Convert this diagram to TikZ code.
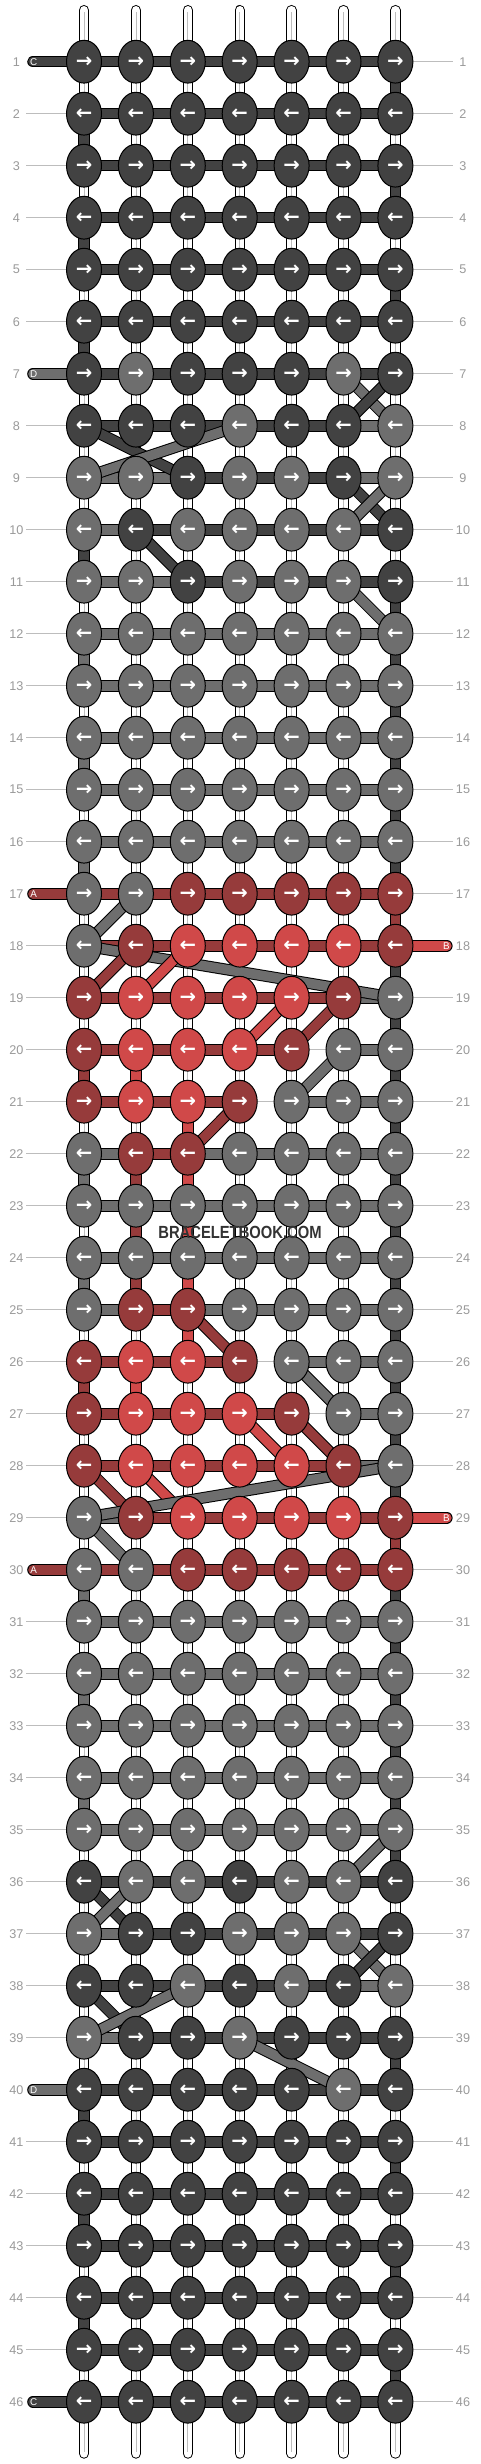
\documentclass[tikz,border=0pt]{standalone}
\usepackage{fontspec}
\setmainfont{Liberation Sans}
\newfontfamily\arrowfont{DejaVu Sans}
\usetikzlibrary{shapes.geometric}
\definecolor{cK}{HTML}{424242}
\definecolor{cG}{HTML}{6E6E6E}
\definecolor{cR}{HTML}{963B3B}
\definecolor{cL}{HTML}{D04949}
\definecolor{labelgray}{HTML}{9A9A9A}
\definecolor{linegray}{HTML}{BDBDBD}
\pgfdeclarelayer{strands}
\pgfsetlayers{strands,main}

\begin{document}
\begin{tikzpicture}[x=0.25mm, y=-0.25mm,
    knot style/.style={ellipse, draw=black, line width=0.25mm, minimum width=8.75mm, minimum height=10.7mm, inner sep=0pt, text=white, font=\arrowfont\bfseries\fontsize{14}{14}\selectfont},
    strand style/.style={draw=black, line width=0.25mm, double distance=2.4mm},
    base style/.style={draw=black, line width=0.25mm, double=white, double distance=2.1mm, line cap=round},
    thin line/.style={draw=linegray, line width=0.25mm},
    row label/.style={text=labelgray, font=\fontsize{9}{9}\selectfont, inner sep=0pt},
    tab letter/.style={text=white, font=\fontsize{7}{7}\selectfont, inner sep=0pt}
]
\useasboundingbox (0,0) rectangle (480,2464);

% knots, one row per line
\foreach \knots [count=\r] in {
    {K,K,K,K,K,K,K},{K,K,K,K,K,K,K},{K,K,K,K,K,K,K},{K,K,K,K,K,K,K},
    {K,K,K,K,K,K,K},{K,K,K,K,K,K,K},{K,G,K,K,K,G,K},{K,K,K,G,K,K,G},
    {G,G,K,G,G,K,G},{G,K,G,G,G,G,K},{G,G,K,G,G,G,K},{G,G,G,G,G,G,G},
    {G,G,G,G,G,G,G},{G,G,G,G,G,G,G},{G,G,G,G,G,G,G},{G,G,G,G,G,G,G},
    {G,G,R,R,R,R,R},{G,R,L,L,L,L,R},{R,L,L,L,L,R,G},{R,L,L,L,R,G,G},
    {R,L,L,R,G,G,G},{G,R,R,G,G,G,G},{G,G,G,G,G,G,G},{G,G,G,G,G,G,G},
    {G,R,R,G,G,G,G},{R,L,L,R,G,G,G},{R,L,L,L,R,G,G},{R,L,L,L,L,R,G},
    {G,R,L,L,L,L,R},{G,G,R,R,R,R,R},{G,G,G,G,G,G,G},{G,G,G,G,G,G,G},
    {G,G,G,G,G,G,G},{G,G,G,G,G,G,G},{G,G,G,G,G,G,G},{K,G,G,K,G,G,K},
    {G,K,K,G,G,G,K},{K,K,G,K,G,K,G},{G,K,K,G,K,K,K},{K,K,K,K,K,G,K},
    {K,K,K,K,K,K,K},{K,K,K,K,K,K,K},{K,K,K,K,K,K,K},{K,K,K,K,K,K,K},
    {K,K,K,K,K,K,K},{K,K,K,K,K,K,K}}{
  \foreach \c [count=\i] in \knots {
    \node[knot style, fill=c\c] (k\r-\i) at ({84+(\i-1)*51.9},{61.7+(\r-1)*52}) {\ifodd\r →\else ←\fi};
  }
  \node[row label] (ll\r) at (16.5,{61.7+(\r-1)*52}) {\r};
  \node[row label] (rl\r) at (463,{61.7+(\r-1)*52}) {\r};
}

\begin{pgfonlayer}{strands}
\fill[white] (0,0) rectangle (480,2464);

% base strings
\foreach \i in {1,...,7}{
  \coordinate (t\i) at ({84+(\i-1)*51.9},10.2);
  \coordinate (b\i) at ({84+(\i-1)*51.9},2453.5);
  \draw[base style] (t\i) -- (b\i);
  \draw[linegray, line width=0.2mm] ([yshift=-0.5mm]t\i) -- ([yshift=0.5mm]b\i);
}

% coloured strands between rows
\foreach \gaps [count=\r] in {
    {W,W,W,W,W,W,K},{K,W,W,W,W,W,W},{W,W,W,W,W,W,K},{K,W,W,W,W,W,W},
    {W,W,W,W,W,W,K},{K,W,W,W,W,W,W},{W,W,W,W,W,W,W},{W,W,W,W,W,W,W},
    {W,W,W,W,W,W,W},{K,W,W,W,W,W,W},{W,W,W,W,W,W,K},{G,W,W,W,W,W,K},
    {W,W,W,W,W,W,K},{G,W,W,W,W,W,K},{W,W,W,W,W,W,K},{G,W,W,W,W,W,K},
    {W,W,W,W,W,W,R},{W,W,W,W,W,W,K},{W,W,W,W,W,W,K},{R,L,W,W,W,W,K},
    {W,W,L,W,W,W,K},{G,R,L,W,W,W,K},{W,R,L,W,W,W,K},{G,R,L,W,W,W,K},
    {W,W,L,W,W,W,K},{R,L,W,W,W,W,K},{W,W,W,W,W,W,K},{W,W,W,W,W,W,K},
    {W,W,W,W,W,W,R},{G,W,W,W,W,W,K},{W,W,W,W,W,W,K},{G,W,W,W,W,W,K},
    {W,W,W,W,W,W,K},{G,W,W,W,W,W,K},{W,W,W,W,W,W,K},{W,W,W,W,W,W,W},
    {W,W,W,W,W,W,W},{W,W,W,W,W,W,W},{W,W,W,W,W,W,K},{K,W,W,W,W,W,W},
    {W,W,W,W,W,W,K},{K,W,W,W,W,W,W},{W,W,W,W,W,W,K},{K,W,W,W,W,W,W},
    {W,W,W,W,W,W,K}}{
  \pgfmathtruncatemacro\s{\r+1}
  \foreach \c [count=\i] in \gaps {
    \if\c W\else
      \draw[strand style, double=c\c] (k\r-\i.center) -- (k\s-\i.center);
    \fi
  }
}

% working strings across each row
\foreach \bars [count=\r] in {
    {K,K,K,K,K,K},{K,K,K,K,K,K},{K,K,K,K,K,K},{K,K,K,K,K,K},
    {K,K,K,K,K,K},{K,K,K,K,K,K},{K,K,K,K,K,K},{K,K,K,K,K,G},
    {G,G,K,K,K,G},{G,K,K,K,K,K},{G,G,K,K,K,K},{G,G,G,G,G,G},
    {G,G,G,G,G,G},{G,G,G,G,G,G},{G,G,G,G,G,G},{G,G,G,G,G,G},
    {R,R,R,R,R,R},{R,R,R,R,R,R},{R,R,R,R,R,G},{R,R,R,R,N,G},
    {R,R,R,N,G,G},{G,R,G,G,G,G},{G,G,G,G,G,G},{G,G,G,G,G,G},
    {G,R,G,G,G,G},{R,R,R,N,G,G},{R,R,R,R,N,G},{R,R,R,R,R,G},
    {G,R,R,R,R,R},{R,R,R,R,R,R},{G,G,G,G,G,G},{G,G,G,G,G,G},
    {G,G,G,G,G,G},{G,G,G,G,G,G},{G,G,G,G,G,G},{K,K,K,K,K,K},
    {G,K,K,K,K,K},{K,K,K,K,K,G},{G,K,K,K,K,K},{K,K,K,K,K,K},
    {K,K,K,K,K,K},{K,K,K,K,K,K},{K,K,K,K,K,K},{K,K,K,K,K,K},
    {K,K,K,K,K,K},{K,K,K,K,K,K}}{
  \foreach \c [count=\i] in \bars {
    \pgfmathtruncatemacro\j{\i+1}
    \if\c N
      \draw[thin line] (k\r-\i.center) -- (k\r-\j.center);
    \else
      \draw[strand style, double=c\c] (k\r-\i.center) -- (k\r-\j.center);
    \fi
  }
}

% carried strings
\foreach \ra/\ca/\rb/\cb/\c in {7/6/8/7/G, 7/7/8/6/K, 8/1/9/3/K, 8/4/9/1/G,
    9/6/10/7/K, 9/7/10/6/G, 10/2/11/3/K, 11/6/12/7/G, 17/2/18/1/G,
    18/1/19/7/G, 18/2/19/1/R, 18/3/19/2/L, 19/5/20/4/L, 19/6/20/5/R,
    20/6/21/5/G, 21/4/22/3/R, 25/3/26/4/R, 26/5/27/6/G, 27/4/28/5/L,
    27/5/28/6/R, 28/1/29/2/R, 28/2/29/3/L, 28/7/29/1/G, 29/1/30/2/G,
    35/7/36/6/G, 36/1/37/2/K, 36/2/37/1/G, 37/6/38/7/G, 37/7/38/6/K,
    38/1/39/2/K, 38/3/39/1/G, 39/4/40/6/G}
  \draw[strand style, double=c\c] (k\ra-\ca.center) -- (k\rb-\cb.center);

% label lines
\foreach \r in {2,...,6,8,9,...,16,18,19,...,29,31,32,...,39,41,42,...,45}{
  \coordinate (lx\r) at (26,{61.7+(\r-1)*52});
  \draw[thin line] (lx\r) -- (k\r-1.west);
}
\foreach \r in {1,...,17,19,20,...,28,30,31,...,46}{
  \coordinate (rx\r) at (453,{61.7+(\r-1)*52});
  \draw[thin line] (k\r-7.east) -- (rx\r);
}

% string ends
\foreach \r/\l/\c in {1/C/K, 7/D/G, 17/A/R, 30/A/R, 40/D/G, 46/C/K}{
  \coordinate (tab\r) at (33,{61.7+(\r-1)*52});
  \draw[strand style, double=c\c, line cap=round] (tab\r) -- (k\r-1.center);
}
\foreach \r/\l/\c in {18/B/L, 29/B/L}{
  \coordinate (tab\r) at (446.8,{61.7+(\r-1)*52});
  \draw[strand style, double=c\c, line cap=round] (k\r-7.center) -- (tab\r);
}
\end{pgfonlayer}

\foreach \r/\l in {1/C, 7/D, 17/A, 30/A, 40/D, 46/C}
  \node[tab letter] (tl\r) at ([xshift=0.15mm]tab\r) {\l};
\foreach \r/\l in {18/B, 29/B}
  \node[tab letter] (tl\r) at ([xshift=-0.1mm]tab\r) {\l};

\node[text=black!80, font=\bfseries\fontsize{12.5}{12.5}\selectfont, xscale=0.84, inner sep=0pt] (mark) at (240,1232) {BRACELETBOOK.COM};
\end{tikzpicture}
\end{document}
